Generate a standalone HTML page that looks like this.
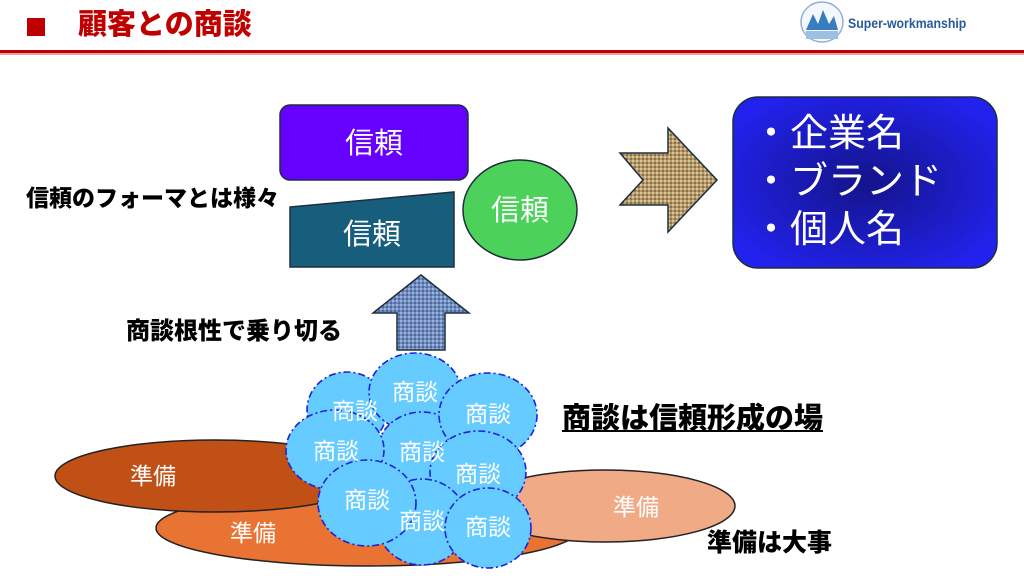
<!DOCTYPE html>
<html><head><meta charset="utf-8"><style>
html,body{margin:0;padding:0;background:#fff;}
body{width:1024px;height:576px;overflow:hidden;position:relative;font-family:"Liberation Sans","Noto Sans CJK JP",sans-serif;}
.t{position:absolute;white-space:nowrap;font-weight:900;color:#000;line-height:1;}
</style></head><body>
<svg width="1024" height="576" style="position:absolute;left:0;top:0">
<defs>
<radialGradient id="bg" cx="50%" cy="50%" r="60%"><stop offset="0" stop-color="#14148a"/><stop offset="1" stop-color="#2222ee"/></radialGradient>
<pattern id="burlap" width="4" height="4" patternUnits="userSpaceOnUse"><rect width="4" height="4" fill="#b59a6c"/><rect width="2" height="2" fill="#d8c59a"/><rect x="2" y="2" width="2" height="2" fill="#8c7048"/></pattern>
<pattern id="denim" width="4" height="4" patternUnits="userSpaceOnUse"><rect width="4" height="4" fill="#6f8cbf"/><rect width="2" height="2" fill="#9fb4d8"/><rect x="2" y="2" width="2" height="2" fill="#4f6a9e"/></pattern>
</defs>
<rect x="27" y="18" width="18" height="18" fill="#c00000"/>
<rect x="0" y="50" width="1024" height="3" fill="#c00000"/>
<rect x="0" y="53" width="1024" height="2" fill="#e8a0a0"/>
<ellipse cx="822" cy="22" rx="21" ry="20" fill="#f4f8fc" stroke="#8fb0d0" stroke-width="1.5"/>
<path d="M806 30 L813 14 L818 24 L823 10 L829 24 L834 16 L838 30 Z" fill="#3a7cc0"/>
<rect x="806" y="31" width="32" height="8" fill="#9cc0e0"/>
<rect x="280" y="105" width="188" height="75" rx="10" fill="#6600ff" stroke="#1e2e3e" stroke-width="1.5"/>
<polygon points="290,207 454,192 454,267 290,267" fill="#175d7c" stroke="#1e2e3e" stroke-width="1.5"/>
<ellipse cx="520" cy="210" rx="57" ry="50" fill="#4cd25a" stroke="#1e2e3e" stroke-width="1.5"/>
<polygon points="421,275 469,313 445,313 445,350 397,350 397,313 373,313" fill="url(#denim)" stroke="#1e2e3e" stroke-width="1.5"/>
<polygon points="620,153 668,153 668,128 717,180 668,232 668,205 620,205 643,180" fill="url(#burlap)" stroke="#1e2e3e" stroke-width="1.5"/>
<rect x="733" y="97" width="264" height="171" rx="25" fill="url(#bg)" stroke="#1e2e3e" stroke-width="1.5"/>
<ellipse cx="368" cy="528" rx="212" ry="38" fill="#e87332" stroke="#222" stroke-width="1.5"/>
<ellipse cx="215" cy="476" rx="160" ry="36" fill="#c05015" stroke="#222" stroke-width="1.5"/>
<ellipse cx="605" cy="506" rx="130" ry="36" fill="#f0aa85" stroke="#222" stroke-width="1.5"/>
<g fill="#66ccff" stroke="#2020dd" stroke-width="1.6" stroke-dasharray="7,3,2,3">
<ellipse cx="347" cy="410" rx="40" ry="38"/>
<ellipse cx="415" cy="392" rx="46" ry="39"/>
<ellipse cx="422" cy="450" rx="44" ry="38"/>
<ellipse cx="488" cy="415" rx="49" ry="42"/>
<ellipse cx="478" cy="472" rx="48" ry="41"/>
<ellipse cx="335" cy="450" rx="49" ry="40"/>
<ellipse cx="422" cy="522" rx="45" ry="43"/>
<ellipse cx="488" cy="528" rx="43" ry="40"/>
<ellipse cx="367" cy="503" rx="49" ry="43"/>
</g>
<g font-family="Liberation Sans,Noto Sans CJK JP,sans-serif" fill="#fff" font-size="23" text-anchor="middle">
<text x="355" y="419">商談</text>
<text x="415" y="400">商談</text>
<text x="422" y="460">商談</text>
<text x="488" y="422">商談</text>
<text x="478" y="482">商談</text>
<text x="336" y="459">商談</text>
<text x="422" y="529">商談</text>
<text x="488" y="535">商談</text>
<text x="367" y="508">商談</text>
<text x="153" y="484">準備</text>
<text x="253" y="541">準備</text>
<text x="636" y="515">準備</text>
</g>
<g font-family="Liberation Sans,Noto Sans CJK JP,sans-serif" fill="#fff" font-size="29" text-anchor="middle">
<text x="374" y="153">信頼</text>
<text x="372" y="244">信頼</text>
<text x="520" y="220">信頼</text>
</g>
<g font-family="Liberation Sans,Noto Sans CJK JP,sans-serif" fill="#fff" font-size="38">
<text x="752" y="146">・企業名</text>
<text x="752" y="194">・ブランド</text>
<text x="752" y="242">・個人名</text>
</g>
<text x="848" y="28" font-family="Liberation Sans,sans-serif" font-size="14" font-weight="bold" fill="#2a5a9a" transform="scale(0.88,1)" transform-origin="848 28">Super-workmanship</text>
</svg>
<div class="t" style="left:78px;top:11px;font-size:29px;color:#c00000;">顧客との商談</div>
<div class="t" style="left:26px;top:187px;font-size:23px;">信頼のフォーマとは様々</div>
<div class="t" style="left:126px;top:320px;font-size:24px;">商談根性で乗り切る</div>
<div class="t" style="left:562px;top:405px;font-size:29px;text-decoration:underline;">商談は信頼形成の場</div>
<div class="t" style="left:707px;top:531px;font-size:25px;">準備は大事</div>
</body></html>
